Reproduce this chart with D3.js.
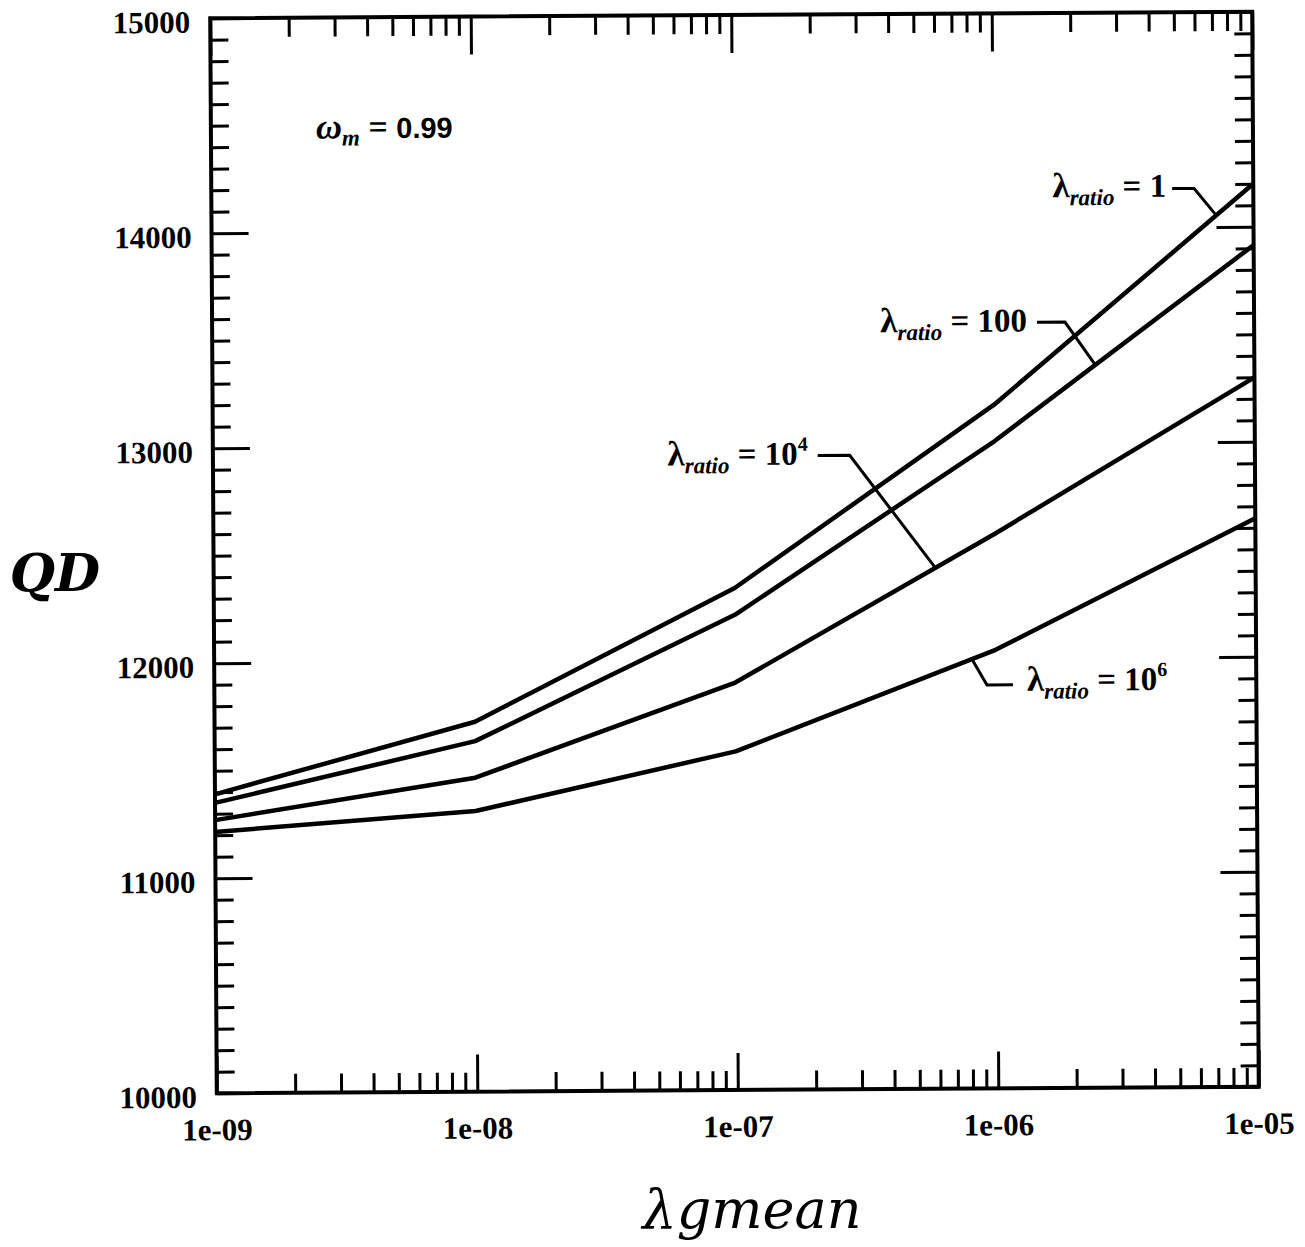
<!DOCTYPE html>
<html>
<head>
<meta charset="utf-8">
<script src="https://cdn.jsdelivr.net/npm/d3@7"></script>
<style>
  body { margin: 0; background: #fff; }
  svg { display: block; }
</style>
</head>
<body>
<svg id="chart" width="1305" height="1247"></svg>
<script>
// lambda_gmean values where the curves were computed
var lambdaGmean = [1e-9, 1e-8, 1e-7, 1e-6, 1e-5];
var xTickLabels = ['1e-09', '1e-08', '1e-07', '1e-06', '1e-05'];
var yTicks = [10000, 11000, 12000, 13000, 14000, 15000];

// QD for each lambda_ratio
var qdRatio1 = [11390, 11720, 12335, 13180, 14200];
var qdRatio100 = [11350, 11630, 12210, 13010, 13915];
var qdRatio1e4 = [11270, 11460, 11895, 12580, 13300];
var qdRatio1e6 = [11215, 11305, 11575, 12040, 12645];

var ratioLabels = ['1', '100', '10^4', '10^6'];
// where along each curve the callout touches (lambda_gmean)
var calloutAt = [7.2e-6, 2.45e-6, 5.9e-7, 8.1e-7];

var serif = '"Liberation Serif", "Times New Roman", serif';

var svg = d3.select('#chart');

// note: "top" is taken by window.top, so keep the frame in one object
var frame = { left: 213.5, right: 1255.5, top: 15, bottom: 1090 };

var x = d3.scaleLog().domain([1e-9, 1e-5]).range([frame.left, frame.right]);
var y = d3.scaleLinear().domain([10000, 15000]).range([frame.bottom, frame.top]);

// the scanned figure sits a little tilted
var g = svg.append('g')
    .attr('transform', 'rotate(-0.35 ' + ((frame.left + frame.right) / 2) + ' ' + ((frame.top + frame.bottom) / 2) + ')');

var xMinor = [];
for (var k = -9; k < -5; k++) {
    for (var m = 2; m < 10; m++) {
        xMinor.push(m * Math.pow(10, k));
    }
}
var yMinor = d3.range(10000, 15001, 100).filter(function(d) { return d % 1000 !== 0; });

function styleAxis(sel) {
    sel.select('.domain').remove();
    sel.selectAll('line').attr('stroke', '#000').attr('stroke-width', 3);
    sel.selectAll('text')
        .attr('font-family', serif)
        .attr('font-weight', 'bold')
        .attr('font-size', 31)
        .attr('fill', '#000');
}

g.append('g')
    .attr('transform', 'translate(0,' + frame.bottom + ')')
    .call(d3.axisBottom(x).tickValues(xMinor).tickSize(-19).tickFormat(''))
    .call(styleAxis);

g.append('g')
    .attr('transform', 'translate(0,' + frame.bottom + ')')
    .call(d3.axisBottom(x).tickValues(lambdaGmean).tickSize(-37).tickPadding(25)
        .tickFormat(function(d, i) { return xTickLabels[i]; }))
    .call(styleAxis);

g.append('g')
    .attr('transform', 'translate(0,' + frame.top + ')')
    .call(d3.axisTop(x).tickValues(xMinor).tickSize(-19).tickFormat(''))
    .call(styleAxis);

g.append('g')
    .attr('transform', 'translate(0,' + frame.top + ')')
    .call(d3.axisTop(x).tickValues(lambdaGmean).tickSize(-38).tickFormat(''))
    .call(styleAxis);

g.append('g')
    .attr('transform', 'translate(' + frame.left + ',0)')
    .call(d3.axisLeft(y).tickValues(yMinor).tickSize(-18).tickFormat(''))
    .call(styleAxis);

g.append('g')
    .attr('transform', 'translate(' + frame.left + ',0)')
    .call(d3.axisLeft(y).tickValues(yTicks).tickSize(-37).tickPadding(20).tickFormat(d3.format('d')))
    .call(styleAxis)
    .selectAll('text').attr('dy', '0.45em');

g.append('g')
    .attr('transform', 'translate(' + frame.right + ',0)')
    .call(d3.axisRight(y).tickValues(yMinor).tickSize(-18).tickFormat(''))
    .call(styleAxis);

g.append('g')
    .attr('transform', 'translate(' + frame.right + ',0)')
    .call(d3.axisRight(y).tickValues(yTicks).tickSize(-37).tickFormat(''))
    .call(styleAxis);

g.append('rect')
    .attr('x', frame.left)
    .attr('y', frame.top)
    .attr('width', frame.right - frame.left)
    .attr('height', frame.bottom - frame.top)
    .attr('fill', 'none')
    .attr('stroke', '#000')
    .attr('stroke-width', 4);

// curves
var series = [qdRatio1, qdRatio100, qdRatio1e4, qdRatio1e6];

var line = d3.line()
    .x(function(d, i) { return x(lambdaGmean[i]); })
    .y(function(d) { return y(d); });

g.append('g')
    .selectAll('path')
    .data(series)
    .enter().append('path')
    .attr('d', line)
    .attr('fill', 'none')
    .attr('stroke', '#000')
    .attr('stroke-width', 4.5)
    .attr('stroke-linejoin', 'round');

// callouts: elbow and tail offsets from the point on the curve, text side
var callouts = [
    { elbow: [-22, -27], tail: [-44, -27], side: 'left', dy: 8, gap: 6 },
    { elbow: [-30, -43], tail: [-58, -43], side: 'left', dy: 9, gap: 10 },
    { elbow: [-85, -113], tail: [-117, -113], side: 'left', dy: 9, gap: 10 },
    { elbow: [15, 26], tail: [41, 26], side: 'right', dy: 6, gap: 14 }
];

callouts.forEach(function(c, i) {
    var onCurve = d3.scaleLog().domain(lambdaGmean).range(series[i]);
    var px = x(calloutAt[i]);
    var py = y(onCurve(calloutAt[i]));
    var pts = [[px, py], [px + c.elbow[0], py + c.elbow[1]], [px + c.tail[0], py + c.tail[1]]];

    g.append('path')
        .attr('d', d3.line()(pts))
        .attr('fill', 'none')
        .attr('stroke', '#000')
        .attr('stroke-width', 3);

    var tx = c.side === 'left' ? pts[2][0] - c.gap : pts[2][0] + c.gap;
    var t = g.append('text')
        .attr('x', tx)
        .attr('y', pts[2][1] + c.dy)
        .attr('text-anchor', c.side === 'left' ? 'end' : 'start')
        .attr('font-family', serif)
        .attr('font-weight', 'bold')
        .attr('font-size', 33)
        .attr('fill', '#000');

    t.append('tspan').attr('font-size', 35).text('\u03bb');
    t.append('tspan').attr('font-style', 'italic')
        .attr('font-size', 23).attr('dy', 8).text('ratio');

    var parts = ratioLabels[i].split('^');
    t.append('tspan').attr('dy', -8).text(' = ' + parts[0]);
    if (parts.length > 1) {
        t.append('tspan').attr('font-size', 20).attr('dy', -14).text(parts[1]);
    }
});

// omega label
var om = g.append('text')
    .attr('x', frame.left + 105)
    .attr('y', frame.top + 121)
    .attr('font-family', serif)
    .attr('font-weight', 'bold')
    .attr('font-size', 34)
    .attr('fill', '#000');
om.append('tspan').attr('font-style', 'italic').attr('font-size', 36).text('\u03c9');
om.append('tspan').attr('font-style', 'italic')
    .attr('font-size', 23).attr('dy', 7).text('m');
om.append('tspan').attr('dy', -7).text(' = ');
om.append('tspan')
    .attr('font-family', '"Liberation Sans", Arial, sans-serif').attr('font-size', 29).text('0.99');

// axis titles
svg.append('text')
    .attr('x', 55)
    .attr('y', 591)
    .attr('text-anchor', 'middle')
    .attr('font-family', '"DejaVu Serif", serif')
    .attr('font-style', 'italic')
    .attr('font-weight', 'bold')
    .attr('font-size', 52)
    .attr('fill', '#000')
    .text('QD');

svg.append('text')
    .attr('x', 752)
    .attr('y', 1228)
    .attr('text-anchor', 'middle')
    .attr('font-family', '"DejaVu Serif", serif')
    .attr('font-style', 'italic')
    .attr('font-size', 54)
    .attr('fill', '#000')
    .text('\u03bbgmean');
</script>
</body>
</html>
